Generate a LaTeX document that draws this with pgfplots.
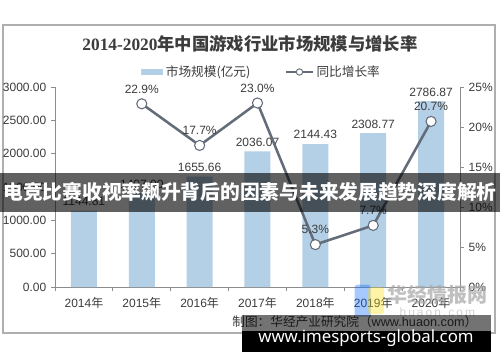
\documentclass[border=0pt]{standalone}
\usepackage{fontspec}
\setmainfont{Liberation Sans}
\newfontfamily\cjk{Noto Sans CJK SC}
\newfontfamily\titleserif{Liberation Serif}
\newfontfamily\webfont{Noto Sans}
\usepackage{pgfplots}
\pgfplotsset{compat=1.18}
\definecolor{barblue}{RGB}{180,208,230}
\definecolor{linec}{RGB}{100,108,122}
\definecolor{axisc}{RGB}{140,140,140}
\definecolor{framec}{RGB}{175,175,175}
\definecolor{txt}{RGB}{60,60,60}
\begin{document}
\begin{tikzpicture}
\useasboundingbox (0,0) rectangle (375pt,271.5pt);
\fill[white] (0,0) rectangle (375pt,271.5pt);
\draw[framec, line width=0.8pt] (2.25pt,21.75pt) rectangle (371.25pt,252.75pt);
\node[text=txt] at (187.5pt,238.5pt) {\fontsize{13}{14}\selectfont\bfseries{\titleserif 2014-2020}{\cjk 年中国游戏行业市场规模与增长率}};
\begin{axis}[
  at={(41.25pt,56.25pt)}, anchor=south west, scale only axis,
  width=303.75pt, height=150pt,
  xmin=-0.5, xmax=6.5, ymin=0, ymax=3000,
  axis y line*=left, axis x line*=bottom,
  axis line style={axisc, line width=0.6pt, -},
  tick align=outside,
  xtick={0,...,6},
  xticklabels={2014{\cjk 年},2015{\cjk 年},2016{\cjk 年},2017{\cjk 年},2018{\cjk 年},2019{\cjk 年},2020{\cjk 年}},
  major x tick style={draw=none},
  minor xtick={-0.5,0.5,...,6.5},
  minor x tick style={axisc, line width=0.6pt},
  minor tick length=3pt,
  ytick={0,500,...,3000},
  y tick style={axisc, line width=0.6pt},
  major tick length=3pt,
  yticklabel style={/pgf/number format/.cd, fixed, fixed zerofill, precision=2, 1000 sep={}, assume math mode=true},
  ticklabel style={font=\fontsize{9}{10}\selectfont, text=txt},
  xticklabel style={yshift=-1pt},
  ybar, bar width=19.5pt,
  nodes near coords={\pgfmathprintnumber[fixed,fixed zerofill,precision=2,1000 sep={},assume math mode=true]{\pgfplotspointmeta}},
  nodes near coords style={font=\fontsize{9}{10}\selectfont, text=txt, anchor=south, inner sep=2pt, yshift=1.5pt},
  legend columns=2,
  legend style={draw=none, fill=none, at={(0.51,1.075)}, anchor=center, font=\fontsize{9.5}{11}\selectfont\cjk, text=txt,
    /tikz/every even column/.append style={column sep=24pt}},
]
\addplot[fill=barblue, draw=none, legend image code/.code={\fill[barblue] (0pt,-2pt) rectangle (17pt,2pt);}]
  coordinates {(0,1144.81) (1,1407.00) (2,1655.66) (3,2036.07) (4,2144.43) (5,2308.77) (6,2786.87)};
\addlegendentry{市场规模(亿元)}
\addlegendimage{legend image code/.code={\draw[linec, line width=1.6pt] (0pt,0pt)--(20pt,0pt); \draw[linec, fill=white, line width=0.7pt] (10pt,0pt) circle (2.4pt);}}
\addlegendentry{同比增长率}
\end{axis}
\begin{axis}[
  at={(41.25pt,56.25pt)}, anchor=south west, scale only axis,
  width=303.75pt, height=150pt,
  xmin=-0.5, xmax=6.5, ymin=0, ymax=25,
  axis y line*=right, axis x line=none,
  axis line style={axisc, line width=0.6pt, -},
  tick align=outside,
  ytick={0,5,...,25},
  y tick style={axisc, line width=0.6pt},
  major tick length=3pt,
  yticklabel={\pgfmathprintnumber[fixed,precision=0,assume math mode=true]{\tick}\%},
  ticklabel style={font=\fontsize{9}{10}\selectfont, text=txt},
  nodes near coords={\pgfmathprintnumber[fixed,fixed zerofill,precision=1,assume math mode=true]{\pgfplotspointmeta}\%},
  nodes near coords style={font=\fontsize{9}{10}\selectfont, text=txt, anchor=south, inner sep=2pt, yshift=5.5pt},
]
\addplot[linec, line width=1.9pt, mark=*, mark size=3.8pt, mark options={fill=white, draw=linec, line width=0.8pt}]
  coordinates {(1,22.9) (2,17.7) (3,23.0) (4,5.3) (5,7.7) (6,20.7)};
\end{axis}
% overlay banner
\fill[black, opacity=0.62] (0pt,112.5pt) rectangle (375pt,141.75pt);
\node[text=white, inner sep=0pt] at (187.5pt,127.5pt) {\fontsize{14.8}{16}\selectfont\cjk\bfseries 电竞比赛收视率飙升背后的因素与未来发展趋势深度解析};
% watermark
\fill[blue!60!cyan, opacity=0.35, rounded corners=2pt] (266pt,34pt) rectangle (278pt,58pt);
\fill[yellow!80!orange, opacity=0.35, rounded corners=2pt] (276pt,36pt) rectangle (288pt,56pt);
\node[text=black!35, opacity=0.7] at (328pt,50.5pt) {\fontsize{15}{16}\selectfont\cjk\bfseries 华经情报网};
\node[text=black!25, opacity=0.7] at (328pt,37pt) {\fontsize{9}{10}\selectfont h\,u\,a\,o\,n\,.\,c\,o\,m};
% source + bottom box
\node[text=txt, anchor=east] at (361.5pt,30.5pt) {\fontsize{9.5}{11}\selectfont{\cjk 制图：华经产业研究院（}www.huaon.com{\cjk ）}};
\fill[black, opacity=0.55] (181.5pt,23.25pt) rectangle (368.25pt,35.25pt);
\fill[black] (181.5pt,7.5pt) rectangle (368.25pt,23.25pt);
\node[text=white] at (274.5pt,18pt) {\fontsize{12.6}{13}\selectfont\webfont\bfseries www.imesports-global.com};
\end{tikzpicture}
\end{document}
